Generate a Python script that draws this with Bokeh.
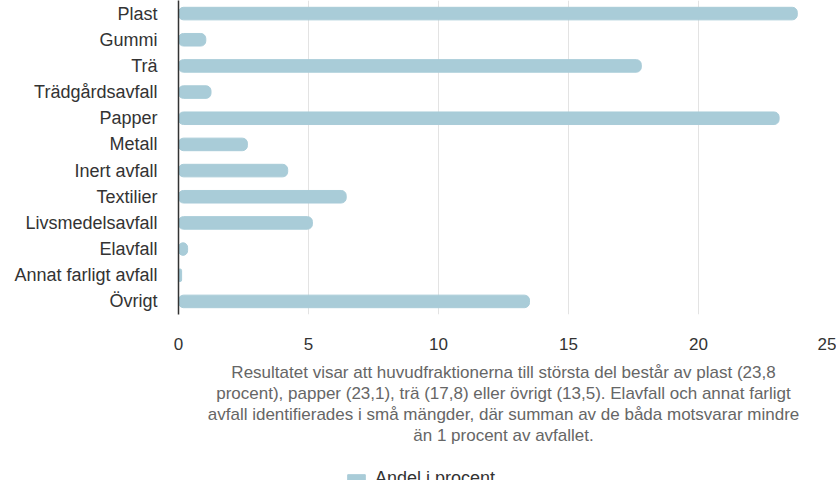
from bokeh.plotting import figure
from bokeh.layouts import column
from bokeh.models import Range1d, FixedTicker, Title, Legend, LegendItem
from bokeh.embed import file_html
from bokeh.resources import INLINE

# categories top to bottom, share of waste in percent
cats = ["Plast", "Gummi", "Trä", "Trädgårdsavfall", "Papper", "Metall",
        "Inert avfall", "Textilier", "Livsmedelsavfall", "Elavfall",
        "Annat farligt avfall", "Övrigt"]
share = [23.8, 1.05, 17.8, 1.25, 23.1, 2.65, 4.2, 6.45, 5.15, 0.35, 0.12, 13.5]
xticks = [0, 5, 10, 15, 20, 25]
caption = ["Resultatet visar att huvudfraktionerna till största del består av plast (23,8",
           "procent), papper (23,1), trä (17,8) eller övrigt (13,5). Elavfall och annat farligt",
           "avfall identifierades i små mängder, där summan av de båda motsvarar mindre",
           "än 1 procent av avfallet."]
series_name = "Andel i procent"

font = "Liberation Sans"
bar_col = "#a9ccd8"
W = 836

n = len(cats)
ypos = [n - 1 - i for i in range(n)]

p = figure(width=W, height=444, output_backend="svg", toolbar_location=None,
           x_range=Range1d(0, 25), y_range=Range1d(-0.5, n - 0.5),
           min_border_left=178, min_border_right=8, min_border_top=0,
           min_border_bottom=0)
p.outline_line_color = None

r = p.hbar(y=ypos, right=share, left=0, height=0.48, color=bar_col,
           border_radius=5)

p.xaxis.ticker = FixedTicker(ticks=xticks)
p.xaxis.axis_line_color = None
p.xaxis.major_tick_line_color = None
p.xaxis.minor_tick_line_color = None
p.xaxis.major_label_standoff = 17
p.xaxis.major_label_text_font = font
p.xaxis.major_label_text_font_size = "17px"
p.xaxis.major_label_text_color = "#333333"
p.xaxis.axis_label = "\u00a0"
p.xaxis.axis_label_text_font_size = "4px"
p.xaxis.axis_label_standoff = 0

p.yaxis.ticker = FixedTicker(ticks=ypos)
p.yaxis.major_label_overrides = {y: c for y, c in zip(ypos, cats)}
p.yaxis.axis_line_color = "#333333"
p.yaxis.axis_line_width = 1.5
p.yaxis.major_tick_line_color = None
p.yaxis.minor_tick_line_color = None
p.yaxis.major_label_standoff = 15
p.yaxis.major_label_text_font = font
p.yaxis.major_label_text_font_size = "18px"
p.yaxis.major_label_text_color = "#333333"

p.ygrid.grid_line_color = None
p.xgrid.grid_line_color = "#e3e3e3"

for line in caption:
    t = Title(text=line, align="center", text_font=font, text_font_size="17px",
              text_font_style="normal", text_color="#666666",
              standoff=0, offset=-6, text_line_height=1.0)
    p.add_layout(t, "below")

# legend strip under the caption; its bars sit outside the visible range
p2 = figure(width=W, height=50, output_backend="svg", toolbar_location=None,
            x_range=Range1d(0, 25), y_range=Range1d(100, 101),
            min_border_left=0, min_border_right=0, min_border_top=0,
            min_border_bottom=0)
p2.axis.visible = False
p2.grid.grid_line_color = None
p2.outline_line_color = None
r2 = p2.hbar(y=ypos, right=share, left=0, height=0.5, color=bar_col)
leg = Legend(items=[LegendItem(label=series_name, renderers=[r2])],
             location=(167, 5), label_text_font=font, label_text_font_size="18px",
             label_text_color="#333333", border_line_color=None,
             background_fill_alpha=0, glyph_width=22, glyph_height=12,
             margin=0, padding=0, label_standoff=8)
p2.add_layout(leg)

open("out.html", "w").write(file_html(column(p, p2, spacing=0), INLINE))
